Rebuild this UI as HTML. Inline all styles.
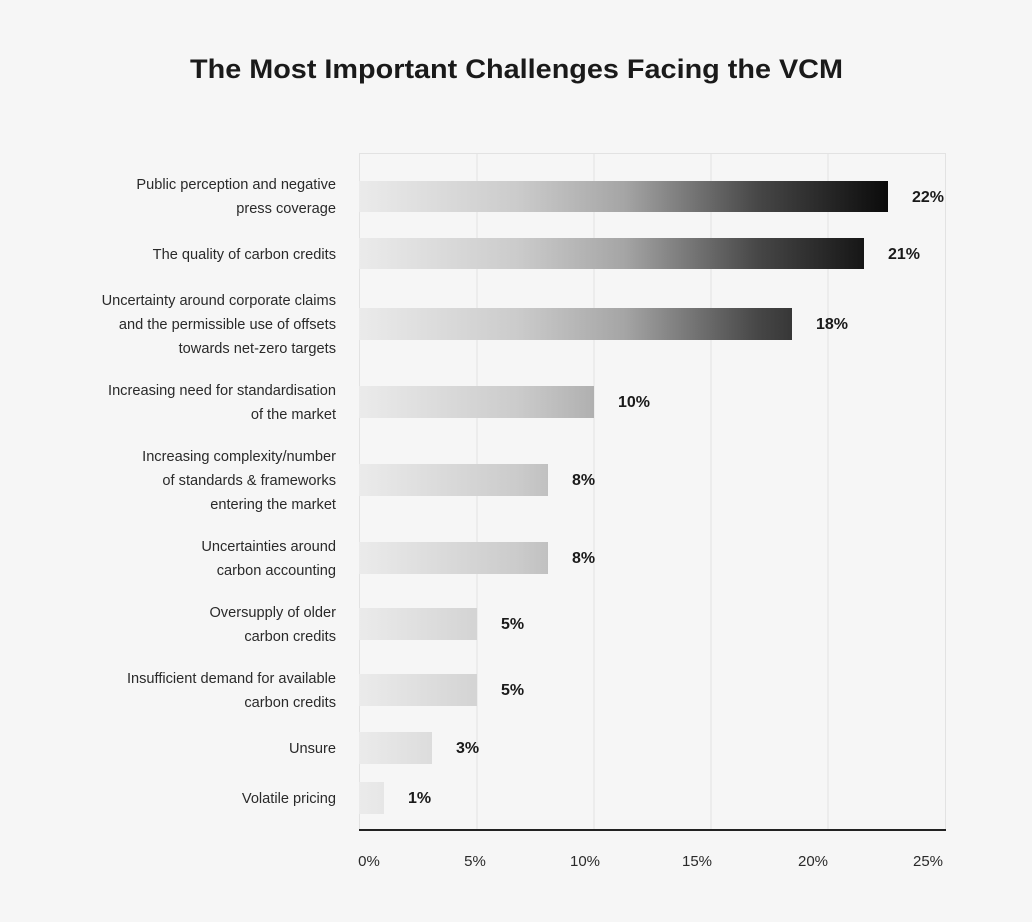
<!DOCTYPE html>
<html><head><meta charset="utf-8"><style>
html,body{margin:0;padding:0;background:#f6f6f6;}
svg{display:block;font-family:"Liberation Sans",sans-serif;}
</style></head><body>
<svg width="1032" height="922" viewBox="0 0 1032 922" xmlns="http://www.w3.org/2000/svg">
<defs>
<linearGradient id="g" gradientUnits="userSpaceOnUse" x1="359" y1="0" x2="890" y2="0">
<stop offset="0" stop-color="#ebebeb"/>
<stop offset="0.3" stop-color="#cbcbcb"/>
<stop offset="0.5" stop-color="#a5a5a5"/>
<stop offset="0.75" stop-color="#474747"/>
<stop offset="1" stop-color="#0a0a0a"/>
</linearGradient>
</defs>
<rect width="1032" height="922" fill="#f6f6f6"/>
<text x="190" y="78" textLength="653" lengthAdjust="spacingAndGlyphs" font-size="27" font-weight="bold" fill="#1a1a1a">The Most Important Challenges Facing the VCM</text>
<g stroke="#e2e2e2" stroke-width="1">
<line x1="359.5" y1="153" x2="359.5" y2="830"/>
<line x1="477" y1="153" x2="477" y2="830"/>
<line x1="594" y1="153" x2="594" y2="830"/>
<line x1="711" y1="153" x2="711" y2="830"/>
<line x1="828" y1="153" x2="828" y2="830"/>
<line x1="945.5" y1="153" x2="945.5" y2="830"/>
<line x1="359" y1="153.5" x2="945" y2="153.5"/>
</g>
<line x1="359" y1="830" x2="946" y2="830" stroke="#222" stroke-width="2"/>
<g fill="url(#g)">
<rect x="359" y="181" width="529" height="31"/>
<rect x="359" y="238" width="505" height="31"/>
<rect x="359" y="308" width="433" height="32"/>
<rect x="359" y="386" width="235" height="32"/>
<rect x="359" y="464" width="189" height="32"/>
<rect x="359" y="542" width="189" height="32"/>
<rect x="359" y="608" width="118" height="32"/>
<rect x="359" y="674" width="118" height="32"/>
<rect x="359" y="732" width="73" height="32"/>
<rect x="359" y="782" width="25" height="32"/>
</g>
<g font-size="16" font-weight="bold" fill="#1a1a1a">
<text x="912" y="202">22%</text>
<text x="888" y="259">21%</text>
<text x="816" y="329">18%</text>
<text x="618" y="407">10%</text>
<text x="572" y="485">8%</text>
<text x="572" y="563">8%</text>
<text x="501" y="629">5%</text>
<text x="501" y="695">5%</text>
<text x="456" y="753">3%</text>
<text x="408" y="803">1%</text>
</g>
<g font-size="14.6" fill="#2a2a2a" text-anchor="end">
<text x="336" y="189">Public perception and negative</text>
<text x="336" y="213">press coverage</text>
<text x="336" y="259">The quality of carbon credits</text>
<text x="336" y="305">Uncertainty around corporate claims</text>
<text x="336" y="329">and the permissible use of offsets</text>
<text x="336" y="353">towards net-zero targets</text>
<text x="336" y="395">Increasing need for standardisation</text>
<text x="336" y="419">of the market</text>
<text x="336" y="461">Increasing complexity/number</text>
<text x="336" y="485">of standards &amp; frameworks</text>
<text x="336" y="509">entering the market</text>
<text x="336" y="551">Uncertainties around</text>
<text x="336" y="575">carbon accounting</text>
<text x="336" y="617">Oversupply of older</text>
<text x="336" y="641">carbon credits</text>
<text x="336" y="683">Insufficient demand for available</text>
<text x="336" y="707">carbon credits</text>
<text x="336" y="753">Unsure</text>
<text x="336" y="803">Volatile pricing</text>
</g>
<g font-size="15" fill="#2a2a2a" text-anchor="middle">
<text x="369" y="866">0%</text>
<text x="475" y="866">5%</text>
<text x="585" y="866">10%</text>
<text x="697" y="866">15%</text>
<text x="813" y="866">20%</text>
<text x="928" y="866">25%</text>
</g>
</svg>
</body></html>
